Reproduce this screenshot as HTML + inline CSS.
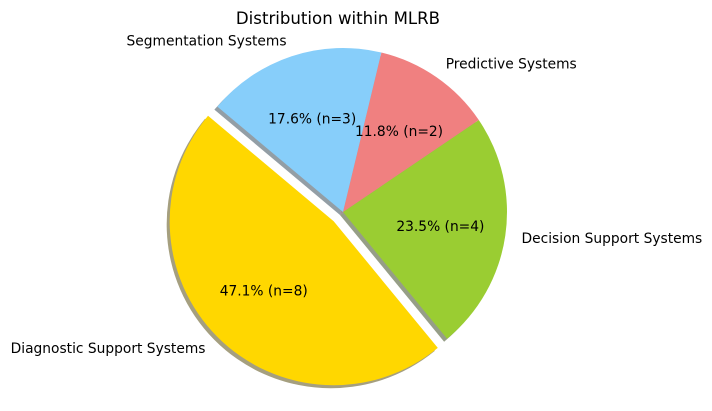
<!DOCTYPE html>
<html><head><meta charset="utf-8"><style>
html,body{margin:0;padding:0;background:#fff;}
svg{display:block;font-family:"DejaVu Sans","Liberation Sans",sans-serif;}
</style></head><body>
<svg id="chart" width="712" height="411" viewBox="0 0 712 411" xmlns="http://www.w3.org/2000/svg">
<text x="338" y="24" text-anchor="middle" font-size="16.6">Distribution within MLRB</text>
<g id="shadows"></g><g id="wedges"></g><g id="labels"></g>
</svg>
<script>
const categories = ["Diagnostic Support Systems","Decision Support Systems","Predictive Systems","Segmentation Systems"];
const counts = [8,4,2,3];
const colors = ["#FFD700","#9ACD32","#F08080","#87CEFA"];
const explode = [0.08,0,0,0];
const startAngle = 140;

const cx=343, cy=212, R=164, FS=13.8;
const NS="http://www.w3.org/2000/svg";
const total = counts.reduce((a,b)=>a+b,0);
const sh=document.getElementById('shadows'), wg=document.getElementById('wedges'), lb=document.getElementById('labels');
function pt(x,y,r,a){const t=a*Math.PI/180;return [x+r*Math.cos(t), y-r*Math.sin(t)];}
function darken(hex){const n=parseInt(hex.slice(1),16);const r=(n>>16)*0.3,g=((n>>8)&255)*0.3,b=(n&255)*0.3;return `rgb(${r|0},${g|0},${b|0})`;}
function wedgePath(x,y,a0,a1){const p0=pt(x,y,R,a0),p1=pt(x,y,R,a1);const large=(a1-a0)>180?1:0;
  return `M${x},${y} L${p0[0]},${p0[1]} A${R},${R} 0 ${large} 0 ${p1[0]},${p1[1]} Z`;}
let a=startAngle;
counts.forEach((v,i)=>{
  const span=v/total*360, a0=a, a1=a+span, mid=a+span/2;
  const off=pt(0,0,explode[i]*R,mid); const x=cx+off[0], y=cy+off[1];
  const s=document.createElementNS(NS,'path');
  s.setAttribute('d',wedgePath(x-3,y+3,a0,a1));s.setAttribute('fill',darken(colors[i]));s.setAttribute('opacity','0.5');
  
  
  sh.appendChild(s);
  const w=document.createElementNS(NS,'path');
  w.setAttribute('d',wedgePath(x,y,a0,a1));w.setAttribute('fill',colors[i]);
  
  
  wg.appendChild(w);
  const lp=pt(x,y,1.1*R,mid);
  const t=document.createElementNS(NS,'text');
  t.setAttribute('x',lp[0]);t.setAttribute('y',lp[1]+5);t.setAttribute('font-size',FS);
  t.setAttribute('text-anchor',Math.cos(mid*Math.PI/180)<0?'end':'start');
  t.textContent=categories[i];
  
  
  lb.appendChild(t);
  const pp=pt(x,y,0.6*R,mid);
  const p=document.createElementNS(NS,'text');
  p.setAttribute('x',pp[0]);p.setAttribute('y',pp[1]+5);p.setAttribute('font-size',FS);p.setAttribute('text-anchor','middle');
  p.textContent=(v/total*100).toFixed(1)+'% (n='+v+')';
  
  
  lb.appendChild(p);
  a=a1;
});
</script>
</body></html>
